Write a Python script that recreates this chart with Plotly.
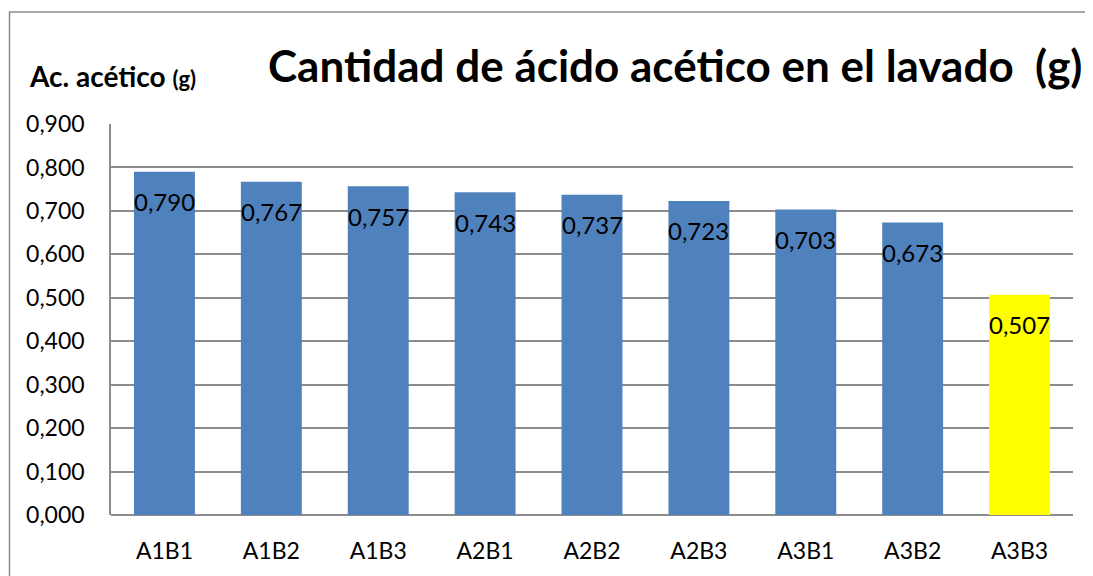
import plotly.graph_objects as go

categories = ["A1B1", "A1B2", "A1B3", "A2B1", "A2B2", "A2B3", "A3B1", "A3B2", "A3B3"]
values = [0.790, 0.767, 0.757, 0.743, 0.737, 0.723, 0.703, 0.673, 0.507]
labels = ["0,790", "0,767", "0,757", "0,743", "0,737", "0,723", "0,703", "0,673", "0,507"]
colors = ["#4F81BD"] * 8 + ["#FFFF00"]
title_text = "Cantidad de ácido acético en el lavado  (g)"
ytitle = "Ac. acético"

FONT = "Lato"
W, H = 1085, 568
L, R, T, B = 103, 20, 116, 59
PW, PH = W - L - R, H - T - B


def px(x):
    return (x - L) / PW


def py(y):
    return 1 + (T - y) / PH


fig = go.Figure()
fig.add_trace(go.Bar(x=categories, y=values, marker=dict(color=colors, line=dict(width=0)),
                     width=0.57, hoverinfo="skip"))

for c, v, t in zip(categories, values, labels):
    fig.add_annotation(x=c, y=v, text=t, showarrow=False, yshift=-30, yanchor="middle",
                       font=dict(family=FONT, size=24, color="black"))

fig.add_annotation(xref="paper", yref="paper", x=px(667), y=py(57),
                   text="<b>" + title_text + "</b>", showarrow=False,
                   xanchor="center", yanchor="middle",
                   font=dict(family=FONT, size=44, color="black"))
fig.add_annotation(xref="paper", yref="paper", x=px(19), y=py(68),
                   text="<b>" + ytitle + " <span style='font-size:22px'>(g)</span></b>",
                   showarrow=False, xanchor="left", yanchor="middle",
                   font=dict(family=FONT, size=28, color="black"))

fig.add_shape(type="rect", xref="paper", yref="paper",
              x0=px(1.5), x1=px(1200), y0=py(700), y1=py(3.5),
              line=dict(color="#8C8C8C", width=1.5), fillcolor="rgba(0,0,0,0)", layer="below")

fig.update_layout(
    width=W, height=H,
    margin=dict(l=L, r=R, t=T, b=B),
    paper_bgcolor="white", plot_bgcolor="white",
    separators=", ",
    showlegend=False,
    xaxis=dict(showgrid=False, showline=False, ticks="", tickfont=dict(family=FONT, size=23, color="black"),
               ticklabelstandoff=20),
    yaxis=dict(range=[0, 0.9], dtick=0.1, tickformat=".3f", showgrid=True, gridcolor="#8C8C8C",
               gridwidth=1.5, showline=True, linecolor="#8C8C8C", linewidth=1.5, zeroline=True,
               zerolinecolor="#8C8C8C", zerolinewidth=1.5, ticks="", ticklabelstandoff=20,
               tickfont=dict(family=FONT, size=23, color="black")),
)

fig.write_html("out.html")
